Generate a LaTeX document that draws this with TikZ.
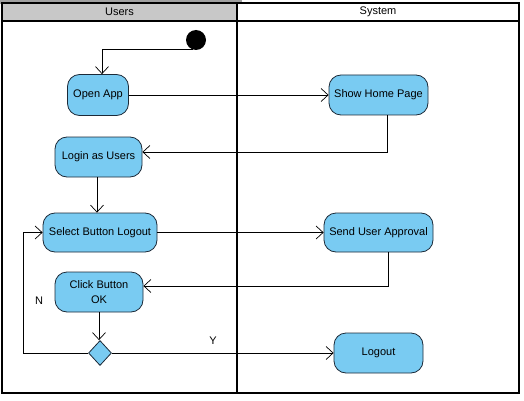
\documentclass[tikz,border=0pt]{standalone}
\usepackage{fontspec}
\setmainfont{Liberation Sans}
\usetikzlibrary{arrows.meta,shapes.geometric}
\definecolor{actfill}{HTML}{79CBF2}
\definecolor{actline}{HTML}{1C2A38}
\definecolor{headgray}{HTML}{C8C8C8}
\tikzset{
  activity/.style={draw=actline, fill=actfill, line width=0.8pt,
    rounded corners=12pt, inner sep=0pt, align=center,
    font=\fontsize{11}{15}\selectfont},
  decision/.style={draw=actline, fill=actfill, line width=0.8pt,
    diamond, inner sep=0pt, minimum width=23pt, minimum height=25pt},
  flow/.style={line width=0.7pt, -{Straight Barb[length=7pt,width=13pt]}},
  lanetext/.style={font=\fontsize{11}{13}\selectfont},
  lane/.style={line width=2.2pt}
}
\begin{document}
\begin{tikzpicture}[x=1pt,y=-1pt]
\useasboundingbox (0,0) rectangle (524,401);

% swimlane frame and headers
\fill[headgray!80!black] (0,0) rectangle (242,4);
\fill[headgray] (2,3) rectangle (237,21);
\draw[lane] (2,3) rectangle (519,393);
\draw[lane] (2,21) -- (519,21);
\draw[lane] (237,3) -- (237,393);
\node[lanetext] (hUsers) at (119.5,12) {Users};
\node[lanetext] (hSystem) at (378,12) {System};

% activities
\fill (196,40) circle (10pt);
\node[circle, inner sep=0pt, minimum size=20pt] (init) at (196,40) {};
\node[activity, minimum width=61pt, minimum height=41pt] (open) at (98,95) {Open App};
\node[activity, minimum width=99pt, minimum height=40pt] (show) at (378.5,95) {Show Home Page};
\node[activity, minimum width=87pt, minimum height=40pt] (login) at (98.5,157) {Login as Users};
\node[activity, minimum width=114pt, minimum height=39pt] (select) at (100,232.5) {Select Button Logout};
\node[activity, minimum width=109pt, minimum height=39pt] (send) at (378.5,232.5) {Send User Approval};
\node[activity, minimum width=88pt, minimum height=40pt] (click) at (99,292) {Click Button\\OK};
\node[decision] (dec) at (100,353) {};
\node[activity, minimum width=89pt, minimum height=40pt] (logout) at (378.5,353) {Logout};
\coordinate (ret) at (23,353);

% control flows
\draw[flow] (init.250) -| ([xshift=4pt]open.north);
\draw[flow] (open.east) -- (show.west);
\draw[flow] ([xshift=8.5pt]show.south) |- ([yshift=5pt]login.east);
\draw[flow] ([xshift=-1.5pt]login.south) -- ([xshift=-1.5pt]login.south |- select.north);
\draw[flow] (select.east) -- (send.west);
\draw[flow] ([xshift=9.5pt]send.south) |- ([yshift=6pt]click.east);
\draw[flow] (click.south) -- (click.south |- dec.north);
\draw[flow] (dec.west) -- (ret) |- (select.west);
\draw[flow] (dec.east) -- (logout.west);

% guards
\node[lanetext] (gy) at (213,341) {Y};
\node[lanetext] (gn) at (39,301) {N};
\end{tikzpicture}
\end{document}
